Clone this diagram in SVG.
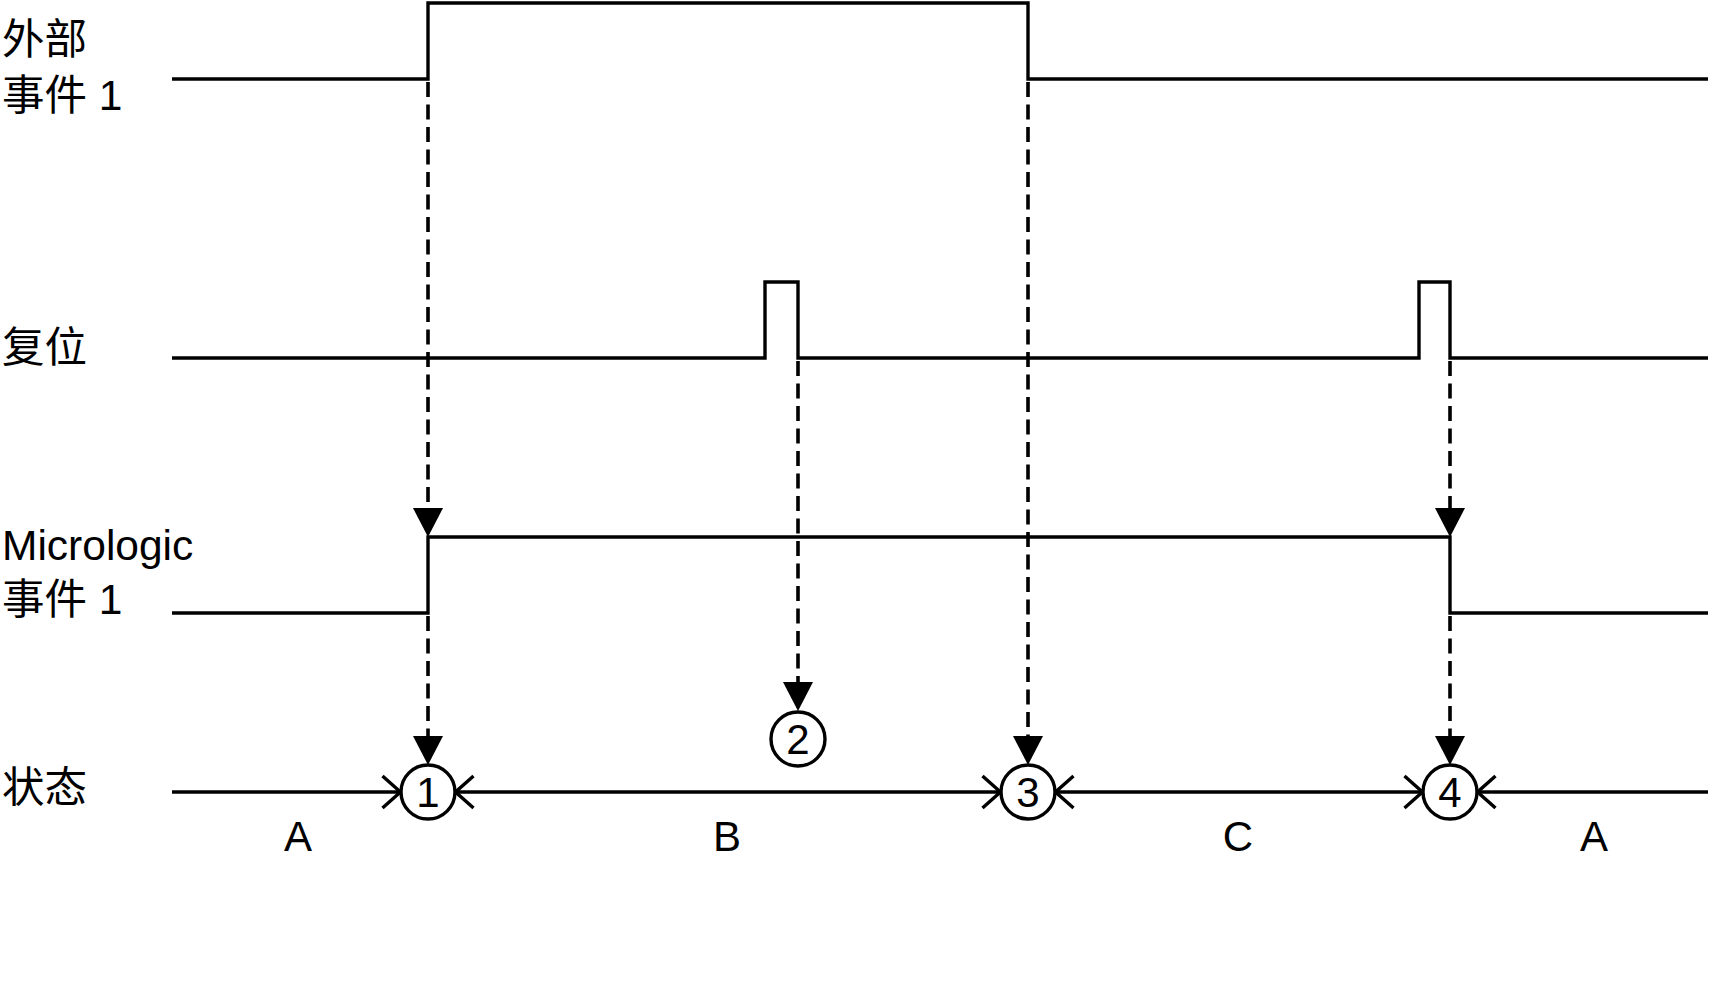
<svg xmlns="http://www.w3.org/2000/svg" width="1711" height="984" viewBox="0 0 1711 984">
<defs>
<style>
.sig{fill:none;stroke:#000;stroke-width:3.4;stroke-linejoin:miter}
.dash{fill:none;stroke:#000;stroke-width:3.6;stroke-dasharray:15 7.5}
.st{fill:none;stroke:#000;stroke-width:3.4}
.node{fill:#fff;stroke:#000;stroke-width:3.4}
.lbl{font-family:"Liberation Sans","Noto Sans CJK SC",sans-serif;font-size:42.5px;fill:#000}
.num{font-family:"Liberation Sans",Arial,sans-serif;font-size:42px;fill:#000;text-anchor:middle}
.seg{font-family:"Liberation Sans",Arial,sans-serif;font-size:42px;fill:#000;text-anchor:middle}
</style>
<marker id="fa" markerUnits="userSpaceOnUse" viewBox="0 -15 29 30" refX="0" refY="0" markerWidth="29" markerHeight="30" orient="auto">
<path d="M0,-15 L29,0 L0,15 Z" fill="#000"/>
</marker>
<marker id="oa" markerUnits="userSpaceOnUse" viewBox="-21 -19 23 38" refX="0" refY="0" markerWidth="23" markerHeight="38" orient="auto-start-reverse">
<path d="M-18,-16 L0,0 L-18,16" fill="none" stroke="#000" stroke-width="3.4"/>
</marker>
</defs>
<rect width="1711" height="984" fill="#fff"/>

<g id="labels">
<text class="lbl" x="2" y="54">外部</text>
<text class="lbl" x="2" y="110">事件 1</text>
<text class="lbl" x="2" y="362">复位</text>
<text class="lbl" x="2" y="560">Micrologic</text>
<text class="lbl" x="2" y="614">事件 1</text>
<text class="lbl" x="2" y="802">状态</text>
</g>

<g id="signals">
<polyline id="ext-event" class="sig" points="172,79 428,79 428,3 1028,3 1028,79 1708,79"/>
<polyline id="reset" class="sig" points="172,358 765,358 765,282 798,282 798,358 1419,358 1419,282 1450,282 1450,358 1708,358"/>
<polyline id="micrologic-event" class="sig" points="172,613 428,613 428,537 1450,537 1450,613 1708,613"/>
</g>

<g id="connectors">
<line class="dash" x1="428" y1="82" x2="428" y2="508" marker-end="url(#fa)"/>
<line class="dash" x1="428" y1="616" x2="428" y2="736" marker-end="url(#fa)"/>
<line class="dash" x1="798" y1="361" x2="798" y2="682" marker-end="url(#fa)"/>
<line class="dash" x1="1028" y1="82" x2="1028" y2="736" marker-end="url(#fa)"/>
<line class="dash" x1="1450" y1="361" x2="1450" y2="508" marker-end="url(#fa)"/>
<line class="dash" x1="1450" y1="616" x2="1450" y2="736" marker-end="url(#fa)"/>
<line class="st" x1="172" y1="792" x2="400.5" y2="792" marker-end="url(#oa)"/>
<line class="st" x1="455.5" y1="792" x2="1000.5" y2="792" marker-start="url(#oa)" marker-end="url(#oa)"/>
<line class="st" x1="1055.5" y1="792" x2="1422.5" y2="792" marker-start="url(#oa)" marker-end="url(#oa)"/>
<line class="st" x1="1477.5" y1="792" x2="1708" y2="792" marker-start="url(#oa)"/>
</g>

<g id="node-1">
<circle class="node" cx="428" cy="792" r="27"/>
<text class="num" x="428" y="807">1</text>
</g>
<g id="node-2">
<circle class="node" cx="798" cy="739" r="27"/>
<text class="num" x="798" y="754">2</text>
</g>
<g id="node-3">
<circle class="node" cx="1028" cy="792" r="27"/>
<text class="num" x="1028" y="807">3</text>
</g>
<g id="node-4">
<circle class="node" cx="1450" cy="792" r="27"/>
<text class="num" x="1450" y="807">4</text>
</g>

<g id="states">
<text class="seg" x="298" y="851">A</text>
<text class="seg" x="727" y="851">B</text>
<text class="seg" x="1238" y="851">C</text>
<text class="seg" x="1594" y="851">A</text>
</g>
</svg>
